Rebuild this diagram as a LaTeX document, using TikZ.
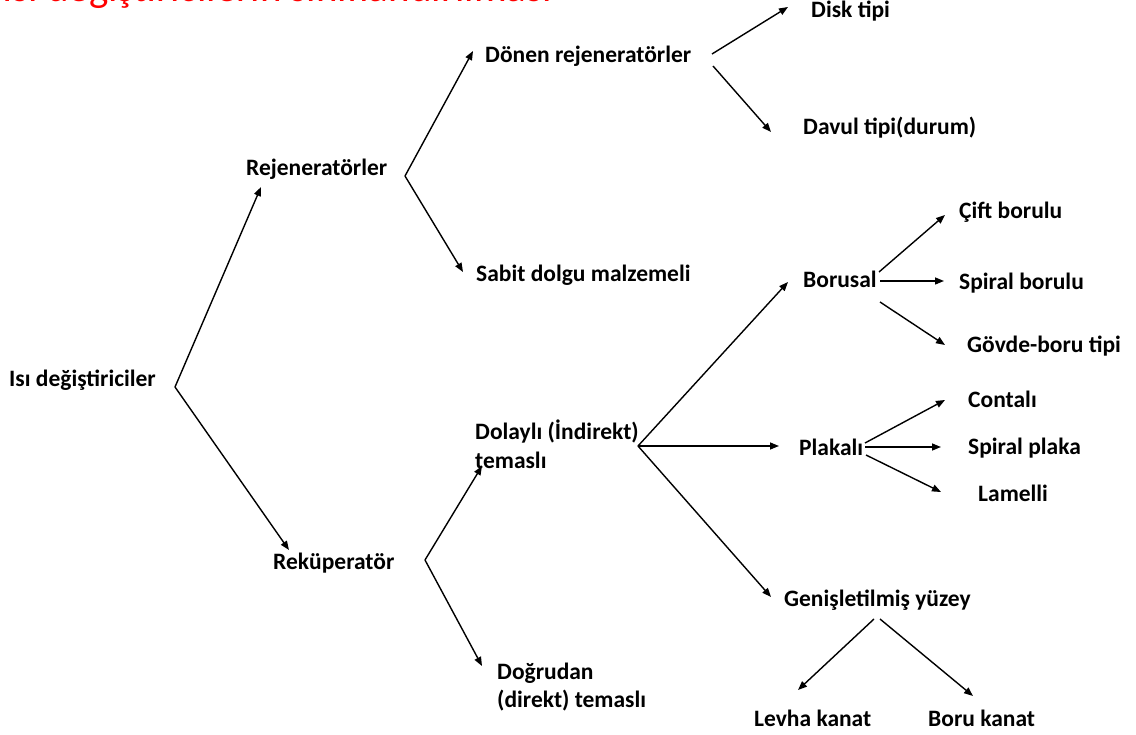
\documentclass[tikz,border=0pt]{standalone}
\usepackage{fontspec}
\setmainfont{Carlito}
\usetikzlibrary{arrows.meta}
\begin{document}
\begin{tikzpicture}[x=1pt,y=-1pt,
  lbl/.style={anchor=base west,inner sep=0pt,font=\fontsize{23.5}{28}\selectfont\bfseries},
  ttl/.style={anchor=base west,inner sep=0pt,text=red,font=\fontsize{41}{48}\selectfont},
  arr/.style={line width=1.4pt,-{Triangle[length=9pt,width=7pt]}}]
\useasboundingbox (0,0) rectangle (1136,735);
\clip (0,0) rectangle (1136,735);
\fill[white] (0,0) rectangle (1136,735);
% title (cut off at the top)
\node[ttl] (title) at (2,2) {Isı değiştiricilerin sınıflandırılması};
% labels
\node[lbl] (isi)   at (9,387)   {Isı değiştiriciler};
\node[lbl] (rej)   at (246,176) {Rejeneratörler};
\node[lbl] (rek)   at (273,569) {Reküperatör};
\node[lbl] (don)   at (485,63)  {Dönen rejeneratörler};
\node[lbl] (sabit) at (476,282) {Sabit dolgu malzemeli};
\node[lbl] (dolA)  at (475,439) {Dolaylı (İndirekt)};
\node[lbl] (dolB)  at (475,468) {temaslı};
\node[lbl] (dogA)  at (497,679) {Doğrudan};
\node[lbl] (dogB)  at (497,707) {(direkt) temaslı};
\node[lbl] (disk)  at (811,18)  {Disk tipi};
\node[lbl] (davul) at (803,135) {Davul tipi(durum)};
\node[lbl] (bor)   at (803,288) {Borusal};
\node[lbl] (plak)  at (799,455) {Plakalı};
\node[lbl] (gen)   at (784,606) {Genişletilmiş yüzey};
\node[lbl] (cift)  at (959,219) {Çift borulu};
\node[lbl] (spb)   at (959,290) {Spiral borulu};
\node[lbl] (govde) at (967,353) {Gövde-boru tipi};
\node[lbl] (cont)  at (968,408) {Contalı};
\node[lbl] (spp)   at (968,454) {Spiral plaka};
\node[lbl] (lam)   at (978,501) {Lamelli};
\node[lbl] (levha) at (754,726) {Levha kanat};
\node[lbl] (boruk) at (928,726) {Boru kanat};
% fork points and arrow tips
\coordinate (fIsi) at (175,387);
\coordinate (tRej) at (261,187);
\coordinate (tRek) at (289,550);
\coordinate (fRej) at (405,176);
\coordinate (tDon) at (473,51);
\coordinate (tSab) at (463,272);
\coordinate (fRek) at (425,560);
\coordinate (tDol) at (482,466);
\coordinate (tDog) at (482,666);
\coordinate (fDon1) at (712,54);
\coordinate (tDisk) at (788,7);
\coordinate (fDon2) at (713,66);
\coordinate (tDav) at (771,132);
\coordinate (fDol) at (638,446);
\coordinate (tBor) at (788,282);
\coordinate (tPlak) at (779,446);
\coordinate (tGen) at (771,597);
\coordinate (fBor1) at (879,272);
\coordinate (tCift) at (945,215);
\coordinate (fBor2) at (880,281);
\coordinate (tSpb) at (944,281);
\coordinate (fBor3) at (880,302);
\coordinate (tGov) at (945,345);
\coordinate (fPl1) at (865,443);
\coordinate (tCont) at (945,400);
\coordinate (fPl2) at (865,447);
\coordinate (tSpp) at (941,447);
\coordinate (fPl3) at (866,455);
\coordinate (tLam) at (941,492);
\coordinate (fGen1) at (874,619);
\coordinate (tLev) at (798,690);
\coordinate (fGen2) at (880,619);
\coordinate (tBk) at (973,696);
% connectors
\draw[arr] (fIsi) -- (tRej);
\draw[arr] (fIsi) -- (tRek);
\draw[arr] (fRej) -- (tDon);
\draw[arr] (fRej) -- (tSab);
\draw[arr] (fRek) -- (tDol);
\draw[arr] (fRek) -- (tDog);
\draw[arr] (fDon1) -- (tDisk);
\draw[arr] (fDon2) -- (tDav);
\draw[arr] (fDol) -- (tBor);
\draw[arr] (fDol) -- (tPlak);
\draw[arr] (fDol) -- (tGen);
\draw[arr] (fBor1) -- (tCift);
\draw[arr] (fBor2) -- (tSpb);
\draw[arr] (fBor3) -- (tGov);
\draw[arr] (fPl1) -- (tCont);
\draw[arr] (fPl2) -- (tSpp);
\draw[arr] (fPl3) -- (tLam);
\draw[arr] (fGen1) -- (tLev);
\draw[arr] (fGen2) -- (tBk);
\end{tikzpicture}
\end{document}
